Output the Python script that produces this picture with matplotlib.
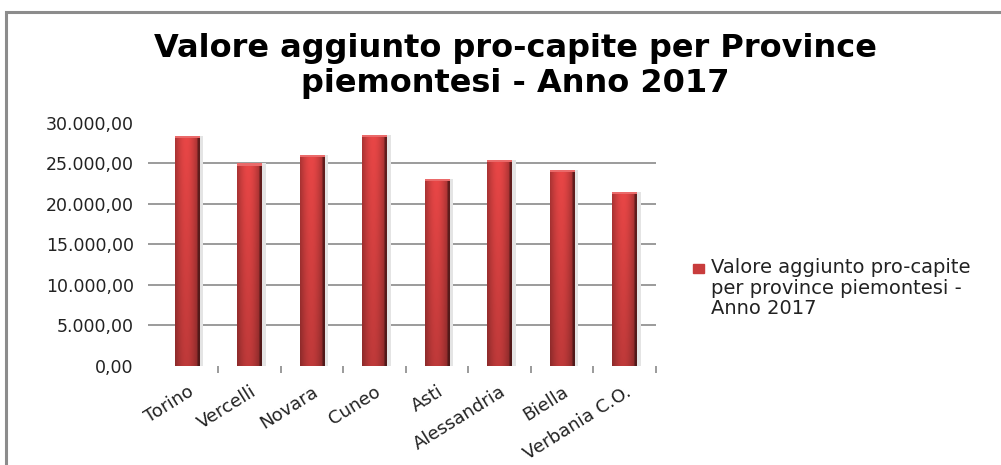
import numpy as np
import matplotlib.pyplot as plt
from matplotlib.patches import Rectangle
from matplotlib.ticker import FuncFormatter

province = ["Torino", "Vercelli", "Novara", "Cuneo", "Asti",
            "Alessandria", "Biella", "Verbania C.O."]
valore = [28400, 25000, 26100, 28500, 23050, 25400, 24200, 21500]
yticks = [0, 5000, 10000, 15000, 20000, 25000, 30000]
titolo = "Valore aggiunto pro-capite per Province\npiemontesi - Anno 2017"
legenda = "Valore aggiunto pro-capite\nper province piemontesi -\nAnno 2017"


def fmt_it(v, pos=None):
    s = "{:,.2f}".format(v)
    return s.replace(",", "X").replace(".", ",").replace("X", ".")


fig = plt.figure(figsize=(10.01, 4.65), dpi=100)
ax = fig.add_axes([0.1558, 0.2129, 0.4995, 0.5226])

x = np.arange(len(province))
bars = ax.bar(x, valore, width=0.4, color="#c83c3c", edgecolor="none", zorder=3)

# gradient fill for a pseudo-3D look
h = np.linspace(0, 1, 40)
shade_h = 0.78 + 0.28 * np.sin(np.pi * np.clip(h * 1.1, 0, 1))
shade_h[-4:] = 0.45
v = np.linspace(0, 1, 60)[:, None]
shade_v = 0.82 + 0.18 * v
base = np.array([0.86, 0.26, 0.26])
img = np.clip(base[None, None, :] * (shade_h[None, :, None] * shade_v[:, :, None]), 0, 1)
for b in bars:
    x0, w, hh = b.get_x(), b.get_width(), b.get_height()
    im = ax.imshow(img, extent=[x0, x0 + w, 0, hh], origin="lower",
                   aspect="auto", zorder=4, interpolation="bilinear")
    im.set_clip_path(b)
    # shadow on the right
    ax.bar(x0 + w + 0.03, hh, width=0.06, align="center", color="#e4e4e4",
           edgecolor="none", zorder=2)
    # lighter cap on top
    ax.bar(x0 + w / 2, 250, bottom=hh - 250, width=w, color="#ea6a6a",
           edgecolor="none", zorder=5)

ax.set_xlim(-0.5, 7.5)
ax.set_ylim(0, 30000)
ax.hlines(yticks[1:-1], -0.63, 7.5, color="#8a8a8a", lw=1.2, zorder=1, clip_on=False)

ax.set_yticks(yticks)
ax.yaxis.set_major_formatter(FuncFormatter(fmt_it))
ax.tick_params(axis="y", length=0, pad=16, labelsize=12.5, labelcolor="#222222")
ax.set_xticks(x)
ax.set_xticklabels(province, rotation=32, ha="right", rotation_mode="anchor",
                   fontsize=13, color="#222222")
ax.tick_params(axis="x", which="major", length=0, pad=12)
ax.set_xticks(np.arange(0.5, 8, 1), minor=True)
ax.tick_params(axis="x", which="minor", length=5, width=1.2, color="#8a8a8a")
for s in ax.spines.values():
    s.set_visible(False)

fig.text(0.515, 1 - 66 / 465, titolo, ha="center", va="center", fontsize=23,
         fontweight="bold", family="DejaVu Sans", linespacing=1.2)

# legend
fig.patches.append(Rectangle((693 / 1001, 1 - 273 / 465), 11 / 1001, 9 / 465,
                             transform=fig.transFigure, color="#c83c3c"))
fig.text(711 / 1001, 1 - 258 / 465, legenda, ha="left", va="top", fontsize=14,
         color="#222222", linespacing=1.1)

# outer frame (only top and left visible)
fig.patches.append(Rectangle((6 / 1001, -0.1), 1.2, 1.1 - 12 / 465,
                             transform=fig.transFigure, fill=False,
                             edgecolor="#8c8c8c", lw=2.2))

fig.savefig("out.png", dpi=100)
